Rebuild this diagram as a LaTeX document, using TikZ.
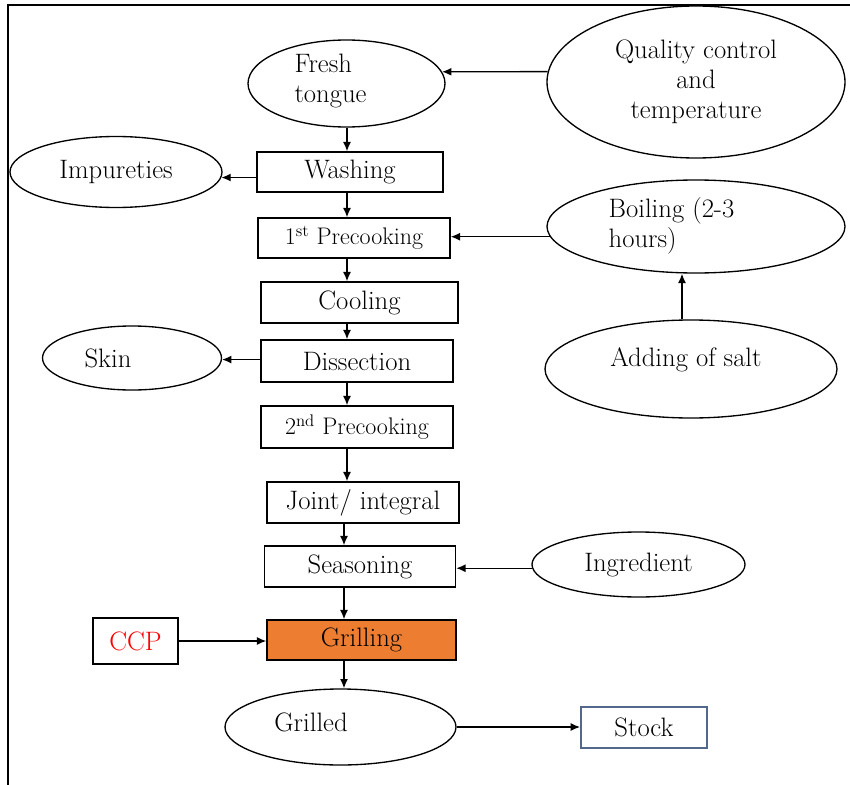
\documentclass[tikz,border=0pt]{standalone}
\usepackage{fontspec}
\usetikzlibrary{arrows.meta,shapes.geometric}
\definecolor{grillorange}{HTML}{ED7D31}
\definecolor{stockedge}{RGB}{84,104,140}
\begin{document}
\begin{tikzpicture}[x=0.75pt,y=-0.75pt,
  txt/.style={font=\fontsize{20}{22.5}\selectfont},
  smalltxt/.style={font=\fontsize{18}{20}\selectfont},
  stepbox/.style={draw,rectangle,line width=1.1pt,inner sep=0pt,txt},
  oval/.style={draw,ellipse,line width=1pt,inner sep=0pt,txt,align=center},
  arr/.style={-{Latex[length=7pt,width=6pt]},line width=1pt},
  frameline/.style={line width=1.8pt}]
\useasboundingbox (0,0) rectangle (850,785);

% page frame (top and left edges)
\coordinate (ftl) at (8,5);
\coordinate (ftr) at (850,5);
\coordinate (fbl) at (8,785);
\draw[frameline] (ftr) -- (ftl) -- (fbl);

% guide lines for the main column of arrows
\coordinate (spine) at (347,0);
\coordinate (spinelow) at (344,0);

% process steps
\node[stepbox,minimum width=186*0.75pt,minimum height=40*0.75pt] (wash) at (350,172) {Washing};
\node[stepbox,minimum width=192*0.75pt,minimum height=40*0.75pt,smalltxt] (pre1) at (354,238) {1\textsuperscript{st} Precooking};
\node[stepbox,minimum width=197*0.75pt,minimum height=41*0.75pt] (cool) at (359.5,302.5) {Cooling};
\node[stepbox,minimum width=192*0.75pt,minimum height=42*0.75pt] (dis) at (357,361) {Dissection};
\node[stepbox,minimum width=192*0.75pt,minimum height=42*0.75pt,smalltxt] (pre2) at (357,427) {2\textsuperscript{nd} Precooking};
\node[stepbox,minimum width=192*0.75pt,minimum height=41*0.75pt] (joint) at (363,502.5) {Joint/ integral};
\node[stepbox,minimum width=191*0.75pt,minimum height=41*0.75pt] (seas) at (360,566.5) {Seasoning};
\node[stepbox,fill=grillorange,minimum width=189*0.75pt,minimum height=40*0.75pt] (grill) at (361.5,640) {Grilling};
\node[stepbox,minimum width=85*0.75pt,minimum height=46*0.75pt,text=red] (ccp) at (135.5,641) {CCP};
\node[stepbox,draw=stockedge,line width=1.4pt,minimum width=126*0.75pt,minimum height=41*0.75pt] (stock) at (644,727.5) {Stock};

% inputs and outputs
\node[oval,minimum width=197*0.75pt,minimum height=87*0.75pt] (fresh) at (346.5,83.5) {};
\node[txt,align=left] (freshtxt) at (330.5,81) {Fresh\\tongue};
\node[oval,minimum width=298*0.75pt,minimum height=152*0.75pt] (qc) at (696,82) {Quality control\\and\\temperature};
\node[oval,minimum width=212*0.75pt,minimum height=71*0.75pt] (imp) at (116,172) {Impureties};
\node[oval,minimum width=298*0.75pt,minimum height=93*0.75pt] (boil) at (696,226.5) {};
\node[txt,align=left] (boiltxt) at (671.5,225.5) {Boiling (2-3\\hours)};
\node[oval,minimum width=292*0.75pt,minimum height=98*0.75pt] (salt) at (691,369) {};
\node[txt] (salttxt) at (686,360) {Adding of salt};
\node[oval,minimum width=179*0.75pt,minimum height=64*0.75pt] (skin) at (132,358) {};
\node[txt] (skintxt) at (108,358) {Skin};
\node[oval,minimum width=213*0.75pt,minimum height=65*0.75pt] (ingr) at (638.5,564.5) {Ingredient};
\node[oval,minimum width=231*0.75pt,minimum height=76*0.75pt] (grilled) at (340.5,727) {};
\node[txt] (grilledtxt) at (311,722) {Grilled};

% main flow
\draw[arr] (fresh.south -| spine) -- (wash.north -| spine);
\draw[arr] (wash.south -| spine) -- (pre1.north -| spine);
\draw[arr] (pre1.south -| spine) -- (cool.north -| spine);
\draw[arr] (cool.south -| spine) -- (dis.north -| spine);
\draw[arr] (dis.south -| spine) -- (pre2.north -| spine);
\draw[arr] (pre2.south -| spine) -- (joint.north -| spine);
\draw[arr] (joint.south -| spinelow) -- (seas.north -| spinelow);
\draw[arr] (seas.south -| spinelow) -- (grill.north -| spinelow);
\draw[arr] (grill.south -| spinelow) -- (grilled.north -| spinelow);

% side arrows
\draw[arr] (qc.176) -- (fresh.7);
\draw[arr] (wash.west |- imp.-3) -- (imp.-3);
\draw[arr] (boil.184) -- (pre1.east |- boil.184);
\draw[arr] (salt.north -| 682,0) -- (boil.south -| 682,0);
\draw[arr] (dis.west |- skin.-1) -- (skin.-1);
\draw[arr] (ingr.182) -- (seas.east |- ingr.182);
\draw[arr] (ccp.east) -- (grill.west |- ccp.east);
\draw[arr] (grilled.east) -- (stock.west |- grilled.east);
\end{tikzpicture}
\end{document}
